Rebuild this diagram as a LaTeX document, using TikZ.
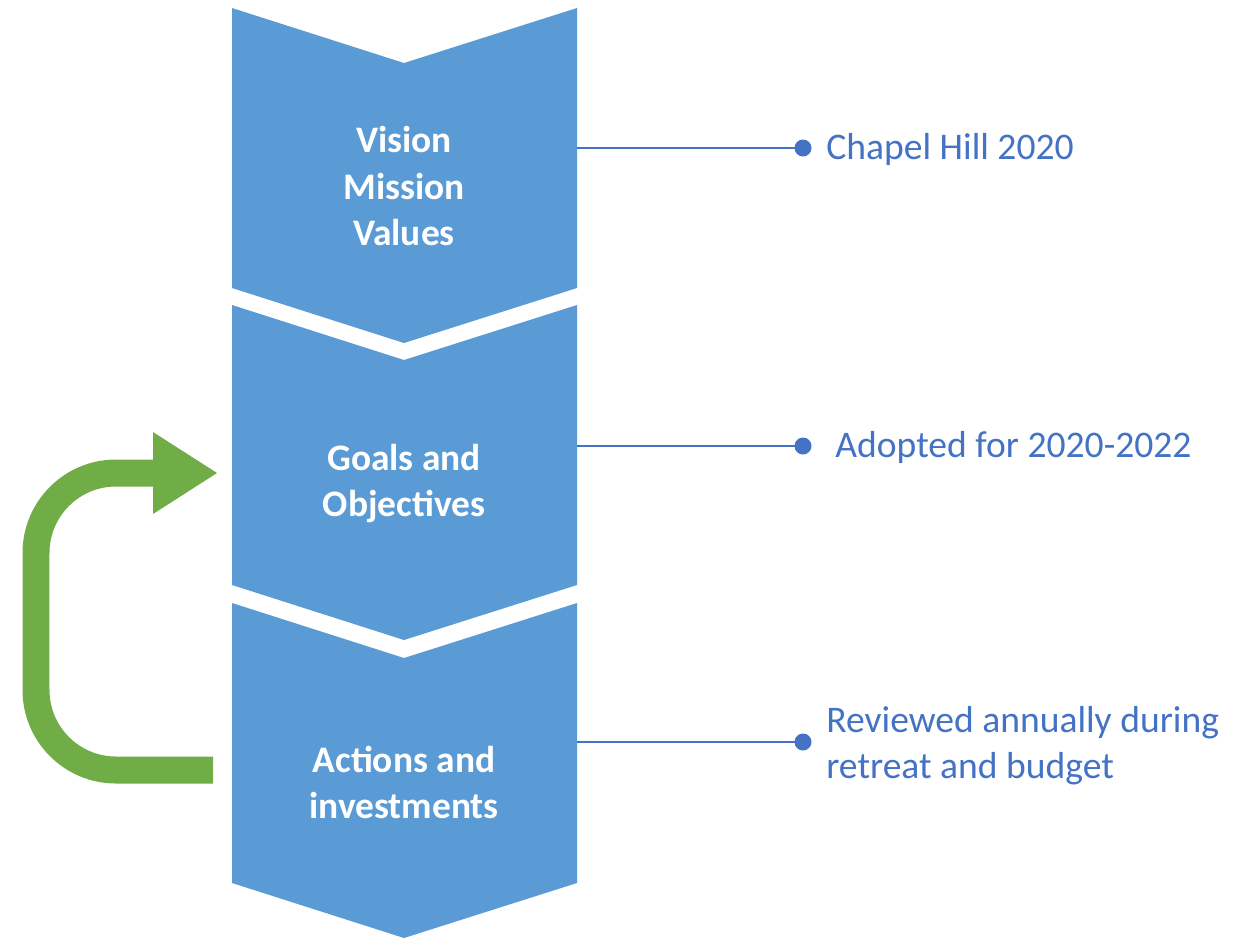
\documentclass[tikz,border=0pt]{standalone}
\usepackage{fontspec}
\setmainfont{Carlito}
\definecolor{chev}{HTML}{5B9BD5}
\definecolor{txtblue}{HTML}{4472C4}
\definecolor{grn}{HTML}{70AD47}
\begin{document}
\begin{tikzpicture}[x=0.02cm,y=-0.02cm,
  chevtext/.style={text=white,font=\fontsize{21.3}{26.2}\selectfont\bfseries,align=center,inner sep=0},
  lbl/.style={text=txtblue,font=\fontsize{21.4}{26.2}\selectfont,anchor=west,inner sep=0,align=left},
  dotnode/.style={circle,fill=txtblue,inner sep=0,minimum size=0.34cm},
  conn/.style={txtblue,line width=1.3pt},
  loop/.style={grn,line width=0.54cm,rounded corners=1.6cm}]
\useasboundingbox (0,0) rectangle (1238,941);
% chevrons
\fill[chev] (232,8) -- (404,63) -- (577,8) -- (577,288) -- (404,343) -- (232,288) -- cycle;
\fill[chev] (232,305) -- (404,360) -- (577,305) -- (577,585) -- (404,640) -- (232,585) -- cycle;
\fill[chev] (232,603) -- (404,658) -- (577,603) -- (577,883) -- (404,938) -- (232,883) -- cycle;
% chevron texts
\node[chevtext] (c1) at (404,186) {Vision\\Mission\\Values};
\node[chevtext] (c2) at (404,484) {Goals and\\Objectives};
\node[chevtext] (c3) at (404,782) {Actions and\\investments};
% connectors
\coordinate (e1) at (577,148);
\coordinate (e2) at (577,446);
\coordinate (e3) at (577,742);
\node[dotnode] (d1) at (803,148) {};
\node[dotnode] (d2) at (803,446) {};
\node[dotnode] (d3) at (803,742) {};
\draw[conn] (e1) -- (d1.center);
\draw[conn] (e2) -- (d2.center);
\draw[conn] (e3) -- (d3.center);
\node[lbl] (l1) at (826,149) {Chapel Hill 2020};
\node[lbl] (l2) at (835,447) {Adopted for 2020-2022};
\node[lbl] (l3) at (826,746) {Reviewed annually during\\retreat and budget};
% green loop arrow
\coordinate (gs) at (213,770);
\coordinate (gb) at (36,770);
\coordinate (gt) at (36,473);
\coordinate (ge) at (155,473);
\draw[loop] (gs) -- (gb) -- (gt) -- (ge);
\coordinate (h1) at (153,432);
\coordinate (h2) at (217,473);
\coordinate (h3) at (153,514);
\fill[grn] (h1) -- (h2) -- (h3) -- cycle;
\end{tikzpicture}
\end{document}
